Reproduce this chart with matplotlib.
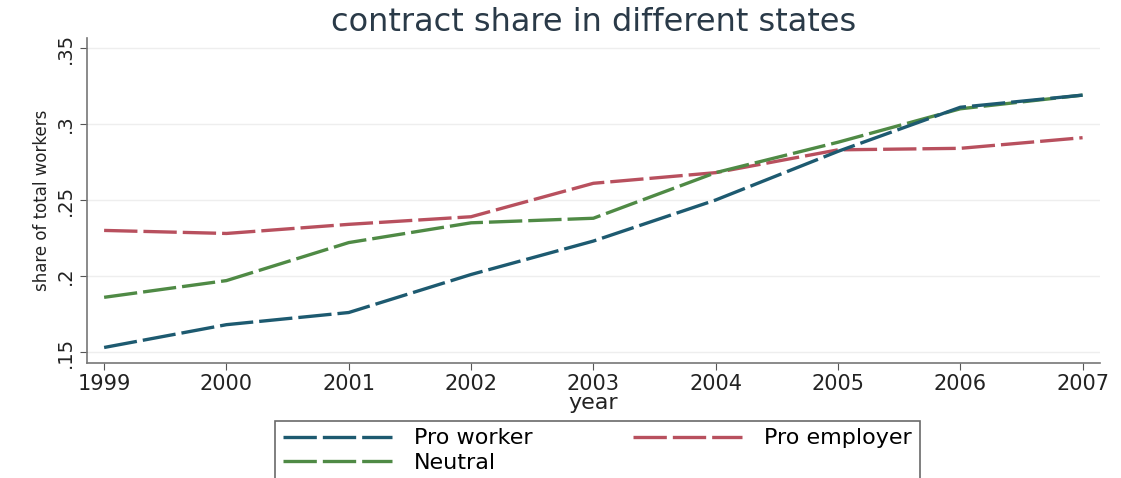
"""Contract share by state labour-regulation stance, 1999-2007."""

import matplotlib

matplotlib.use("Agg")
import matplotlib.pyplot as plt

plt.rcParams["font.family"] = ["DejaVu Sans"]

YEARS = [1999, 2000, 2001, 2002, 2003, 2004, 2005, 2006, 2007]
PRO_WORKER = [0.153, 0.168, 0.176, 0.201, 0.223, 0.250, 0.282, 0.311, 0.319]
PRO_EMPLOYER = [0.230, 0.228, 0.234, 0.239, 0.261, 0.268, 0.283, 0.284, 0.291]
NEUTRAL = [0.186, 0.197, 0.222, 0.235, 0.238, 0.268, 0.288, 0.310, 0.319]
Y_TICKS = [0.15, 0.2, 0.25, 0.3, 0.35]
Y_LABELS = [".15", ".2", ".25", ".3", ".35"]

COLORS = {"Pro worker": "#1d5a70", "Pro employer": "#b8505e", "Neutral": "#4f8a45"}

fig = plt.figure(figsize=(11.21, 4.78), dpi=100)
ax = fig.add_axes([0.0776, 0.2406, 0.9034, 0.68])

series = [("Pro employer", PRO_EMPLOYER), ("Neutral", NEUTRAL), ("Pro worker", PRO_WORKER)]
lines = {}
for name, vals in series:
    (ln,) = ax.plot(YEARS, vals, color=COLORS[name], lw=2.4, label=name,
                    dashes=(10, 1.8), solid_capstyle="butt")
    lines[name] = ln

ax.set_xlim(1998.86, 2007.14)
ax.set_ylim(0.1428, 0.3566)
ax.set_xticks(YEARS, labels=[str(y) for y in YEARS], fontsize=15)
ax.set_yticks(Y_TICKS, labels=Y_LABELS, fontsize=14, rotation=90, va="center")
ax.tick_params(axis="both", colors="#555555", labelcolor="#222222", length=5)
ax.tick_params(axis="x", pad=3)
ax.grid(axis="y", color="#eeeeee", lw=1)
ax.set_axisbelow(True)
for side in ("top", "right"):
    ax.spines[side].set_visible(False)
for side in ("left", "bottom"):
    ax.spines[side].set_color("#777777")
    ax.spines[side].set_linewidth(1.2)

ax.set_xlabel("year", fontsize=16, labelpad=-1, color="#222222")
ax.set_ylabel("share of total workers", fontsize=12, labelpad=4, color="#222222")
ax.set_title("contract share in different states", fontsize=23, color="#2a3a48", pad=5)

order = [lines["Pro worker"], lines["Neutral"], lines["Pro employer"]]
leg = fig.legend(order, [h.get_label() for h in order], ncol=2,
                 loc="upper left", bbox_to_anchor=(0.2453, 0.1, 0.5754, 0.02),
                 mode="expand", borderaxespad=0.0,
                 fontsize=16, frameon=True, fancybox=False, handlelength=4.9,
                 columnspacing=2.2, borderpad=0.35, labelspacing=0.2,
                 handletextpad=1.0)
leg.get_frame().set_edgecolor("#444444")
leg.get_frame().set_linewidth(1.2)

fig.savefig("out.png", dpi=100)
